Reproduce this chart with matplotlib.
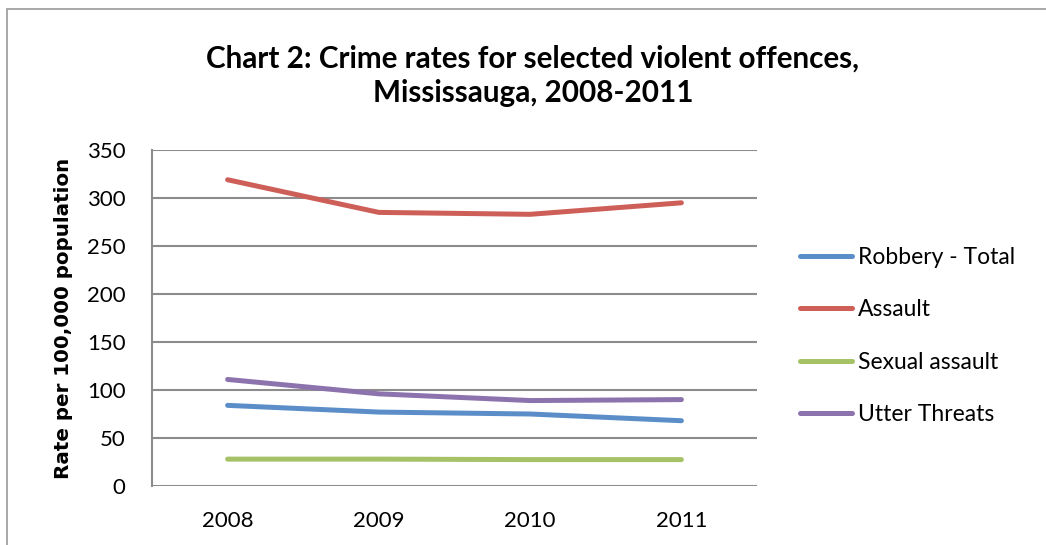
import matplotlib
matplotlib.use("Agg")
import matplotlib.pyplot as plt
from matplotlib.patches import Rectangle

# values
years = ["2008", "2009", "2010", "2011"]
robbery = [84, 77, 75, 68]
assault = [319, 285, 283, 295]
sexual_assault = [28, 28, 27.5, 27.5]
utter_threats = [111, 96, 89, 90]

series_names = ["Robbery - Total", "Assault", "Sexual assault", "Utter Threats"]
series_colors = ["#5b8ec8", "#cd5f58", "#a5c266", "#8c73ae"]

plt.rcParams['font.family'] = ['Lato', 'DejaVu Sans']

fig = plt.figure(figsize=(10.46, 5.45), dpi=100)
fig.patches.append(Rectangle((7 / 1046, -0.05), 1.1, 1 - 9 / 545 + 0.05,
                             transform=fig.transFigure, fill=False,
                             edgecolor="#9a9a9a", linewidth=1.2))

ax = fig.add_axes([152 / 1046, 1 - 486 / 545, 605 / 1046, 336 / 545])

x = range(len(years))
for vals, name, col in zip([robbery, assault, sexual_assault, utter_threats],
                           series_names, series_colors):
    ax.plot(x, vals, color=col, linewidth=3.6, solid_capstyle="round",
            solid_joinstyle="round", label=name, zorder=3)

ax.set_xlim(-0.5, len(years) - 0.5)
ax.set_ylim(0, 350)
ax.set_yticks(range(0, 351, 50))
ax.set_xticks(list(x))
ax.set_xticklabels(years)
ax.yaxis.grid(True, color="#8c8c8c", linewidth=1.5)
ax.set_axisbelow(True)
for s in ["top", "right", "bottom"]:
    ax.spines[s].set_visible(False)
ax.spines["left"].set_color("#8c8c8c")
ax.spines["left"].set_linewidth(1.5)
ax.tick_params(axis="both", length=0, labelsize=16, colors="black")
ax.tick_params(axis="y", pad=19)
ax.tick_params(axis="x", pad=18)

ax.set_ylabel("Rate per 100,000 population", fontsize=14.3, fontweight="bold",
              family="DejaVu Sans")
ax.yaxis.set_label_coords(-79 / 605, 0.5)

fig.text(533 / 1046, 1 - 76 / 545,
         "Chart 2: Crime rates for selected violent offences,\nMississauga, 2008-2011",
         ha="center", va="center", fontsize=21.3, fontweight="bold",
         linespacing=1.3)

fig.legend(loc="center left", bbox_to_anchor=(800 / 1046, 1 - 336 / 545),
           frameon=False, fontsize=16.5, handlelength=2.25, handletextpad=0.26,
           labelspacing=1.37, borderaxespad=0, borderpad=0)

fig.savefig("out.png", dpi=100)
